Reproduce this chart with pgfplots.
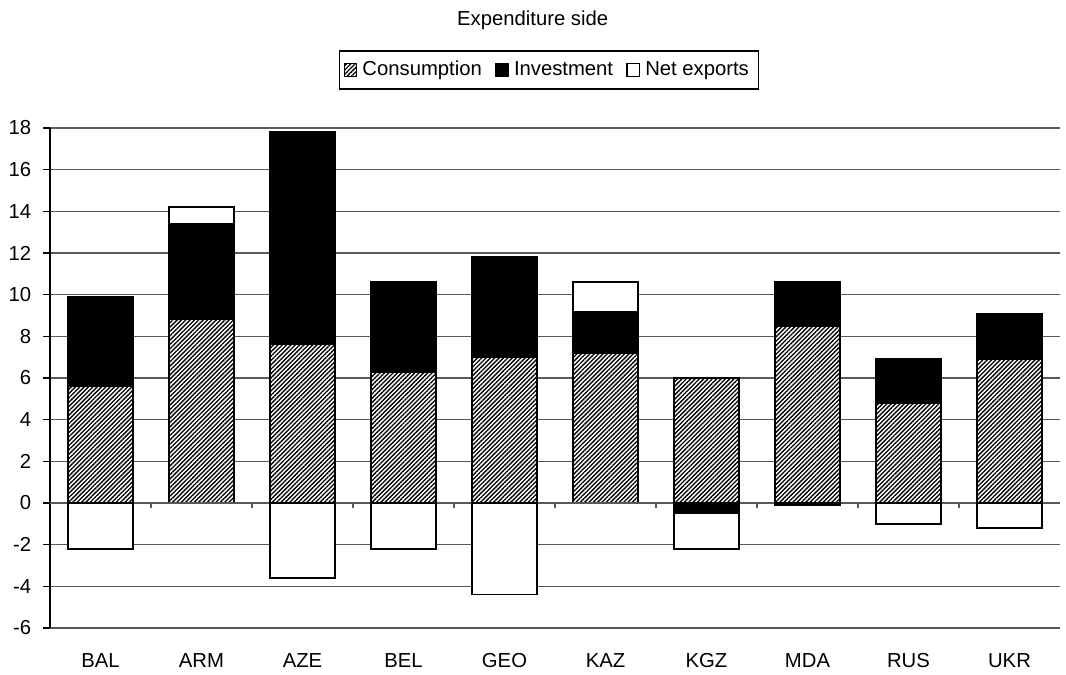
\documentclass[border=0pt]{standalone}
\usepackage{fontspec}
\setmainfont{Liberation Sans}
\usepackage{pgfplots}
\pgfplotsset{compat=1.18}
\usepackage{pgfplotstable}
\usetikzlibrary{patterns.meta}

\pgfplotstableread{
x cons invp nxp invn nxn
0 5.6 4.3 0 0 -2.2
1 8.8 4.6 0.8 0 0
2 7.6 10.2 0 0 -3.6
3 6.3 4.3 0 0 -2.2
4 7.0 4.8 0 0 -4.4
5 7.2 2.0 1.4 0 0
6 6.0 0 0 -0.5 -1.7
7 8.5 2.1 0 0 -0.1
8 4.8 2.1 0 0 -1.0
9 6.9 2.2 0 0 -1.2
}\datatable

\begin{document}
\begin{tikzpicture}[font=\fontsize{7.6}{9}\selectfont]
\pgfplotsset{
 common/.style={
   scale only axis, width=378.75pt, height=187.5pt,
   xmin=-0.5, xmax=9.5, ymin=-6, ymax=18,
   ybar stacked, bar width=0.64,
   anchor=south west, at={(0,0)},
 }
}
\begin{axis}[common,
  axis x line*=bottom, axis y line*=left,
  x axis line style={draw=black!65, line width=0.4pt},
  y axis line style={black, line width=0.5pt},
  ytick={-6,-4,...,18}, ymajorgrids, grid style={black!65, line width=0.4pt},
  xtick={0,...,9},
  xticklabels={BAL,ARM,AZE,BEL,GEO,KAZ,KGZ,MDA,RUS,UKR},
  xtick style={draw=none},
  xticklabel style={yshift=-3pt, text height=5.6pt, text depth=0pt},
  ytick style={black, line width=0.4pt},
  tick align=outside, major tick length=2.5pt,
  /pgf/number format/assume math mode=true,
  yticklabel style={xshift=-1pt},
  legend style={at={(0.494,1.116)}, anchor=center, legend columns=-1,
    draw=black, line width=0.5pt, inner sep=1.5pt,
    nodes={text height=5.6pt, text depth=1.6pt},
    /tikz/every even column/.append style={column sep=3pt}},
  legend image code/.code={\draw[#1, line width=0.45pt] (0pt,-2.3pt) rectangle (4.6pt,2.3pt);},
]
\addplot[fill=white, draw=black, line width=0.6pt,
  postaction={pattern={Lines[angle=45,distance=1.15pt,line width=0.5pt]}}]
  table[x=x,y=cons]{\datatable};
\addplot[fill=black, draw=black, line width=0.6pt] table[x=x,y=invp]{\datatable};
\addplot[fill=white, draw=black, line width=0.6pt] table[x=x,y=nxp]{\datatable};
\legend{Consumption,Investment,Net exports}
\end{axis}
\begin{axis}[common,
  axis x line=middle, axis y line=none,
  axis line style={-, black!65, line width=0.4pt},
  xtick={0.5,1.5,...,8.5}, xticklabels={},
  xtick style={black!65, line width=0.4pt},
  tick align=outside, major tick length=2pt,
  ytick=\empty,
]
\addplot[fill=black, draw=black, line width=0.6pt] table[x=x,y=invn]{\datatable};
\addplot[fill=white, draw=black, line width=0.6pt] table[x=x,y=nxn]{\datatable};
\end{axis}
\node at (181pt,228pt) {Expenditure side};
\pgfresetboundingbox
\path (-18.75pt,-17.6pt) rectangle (381pt,235.5pt);
\end{tikzpicture}
\end{document}
